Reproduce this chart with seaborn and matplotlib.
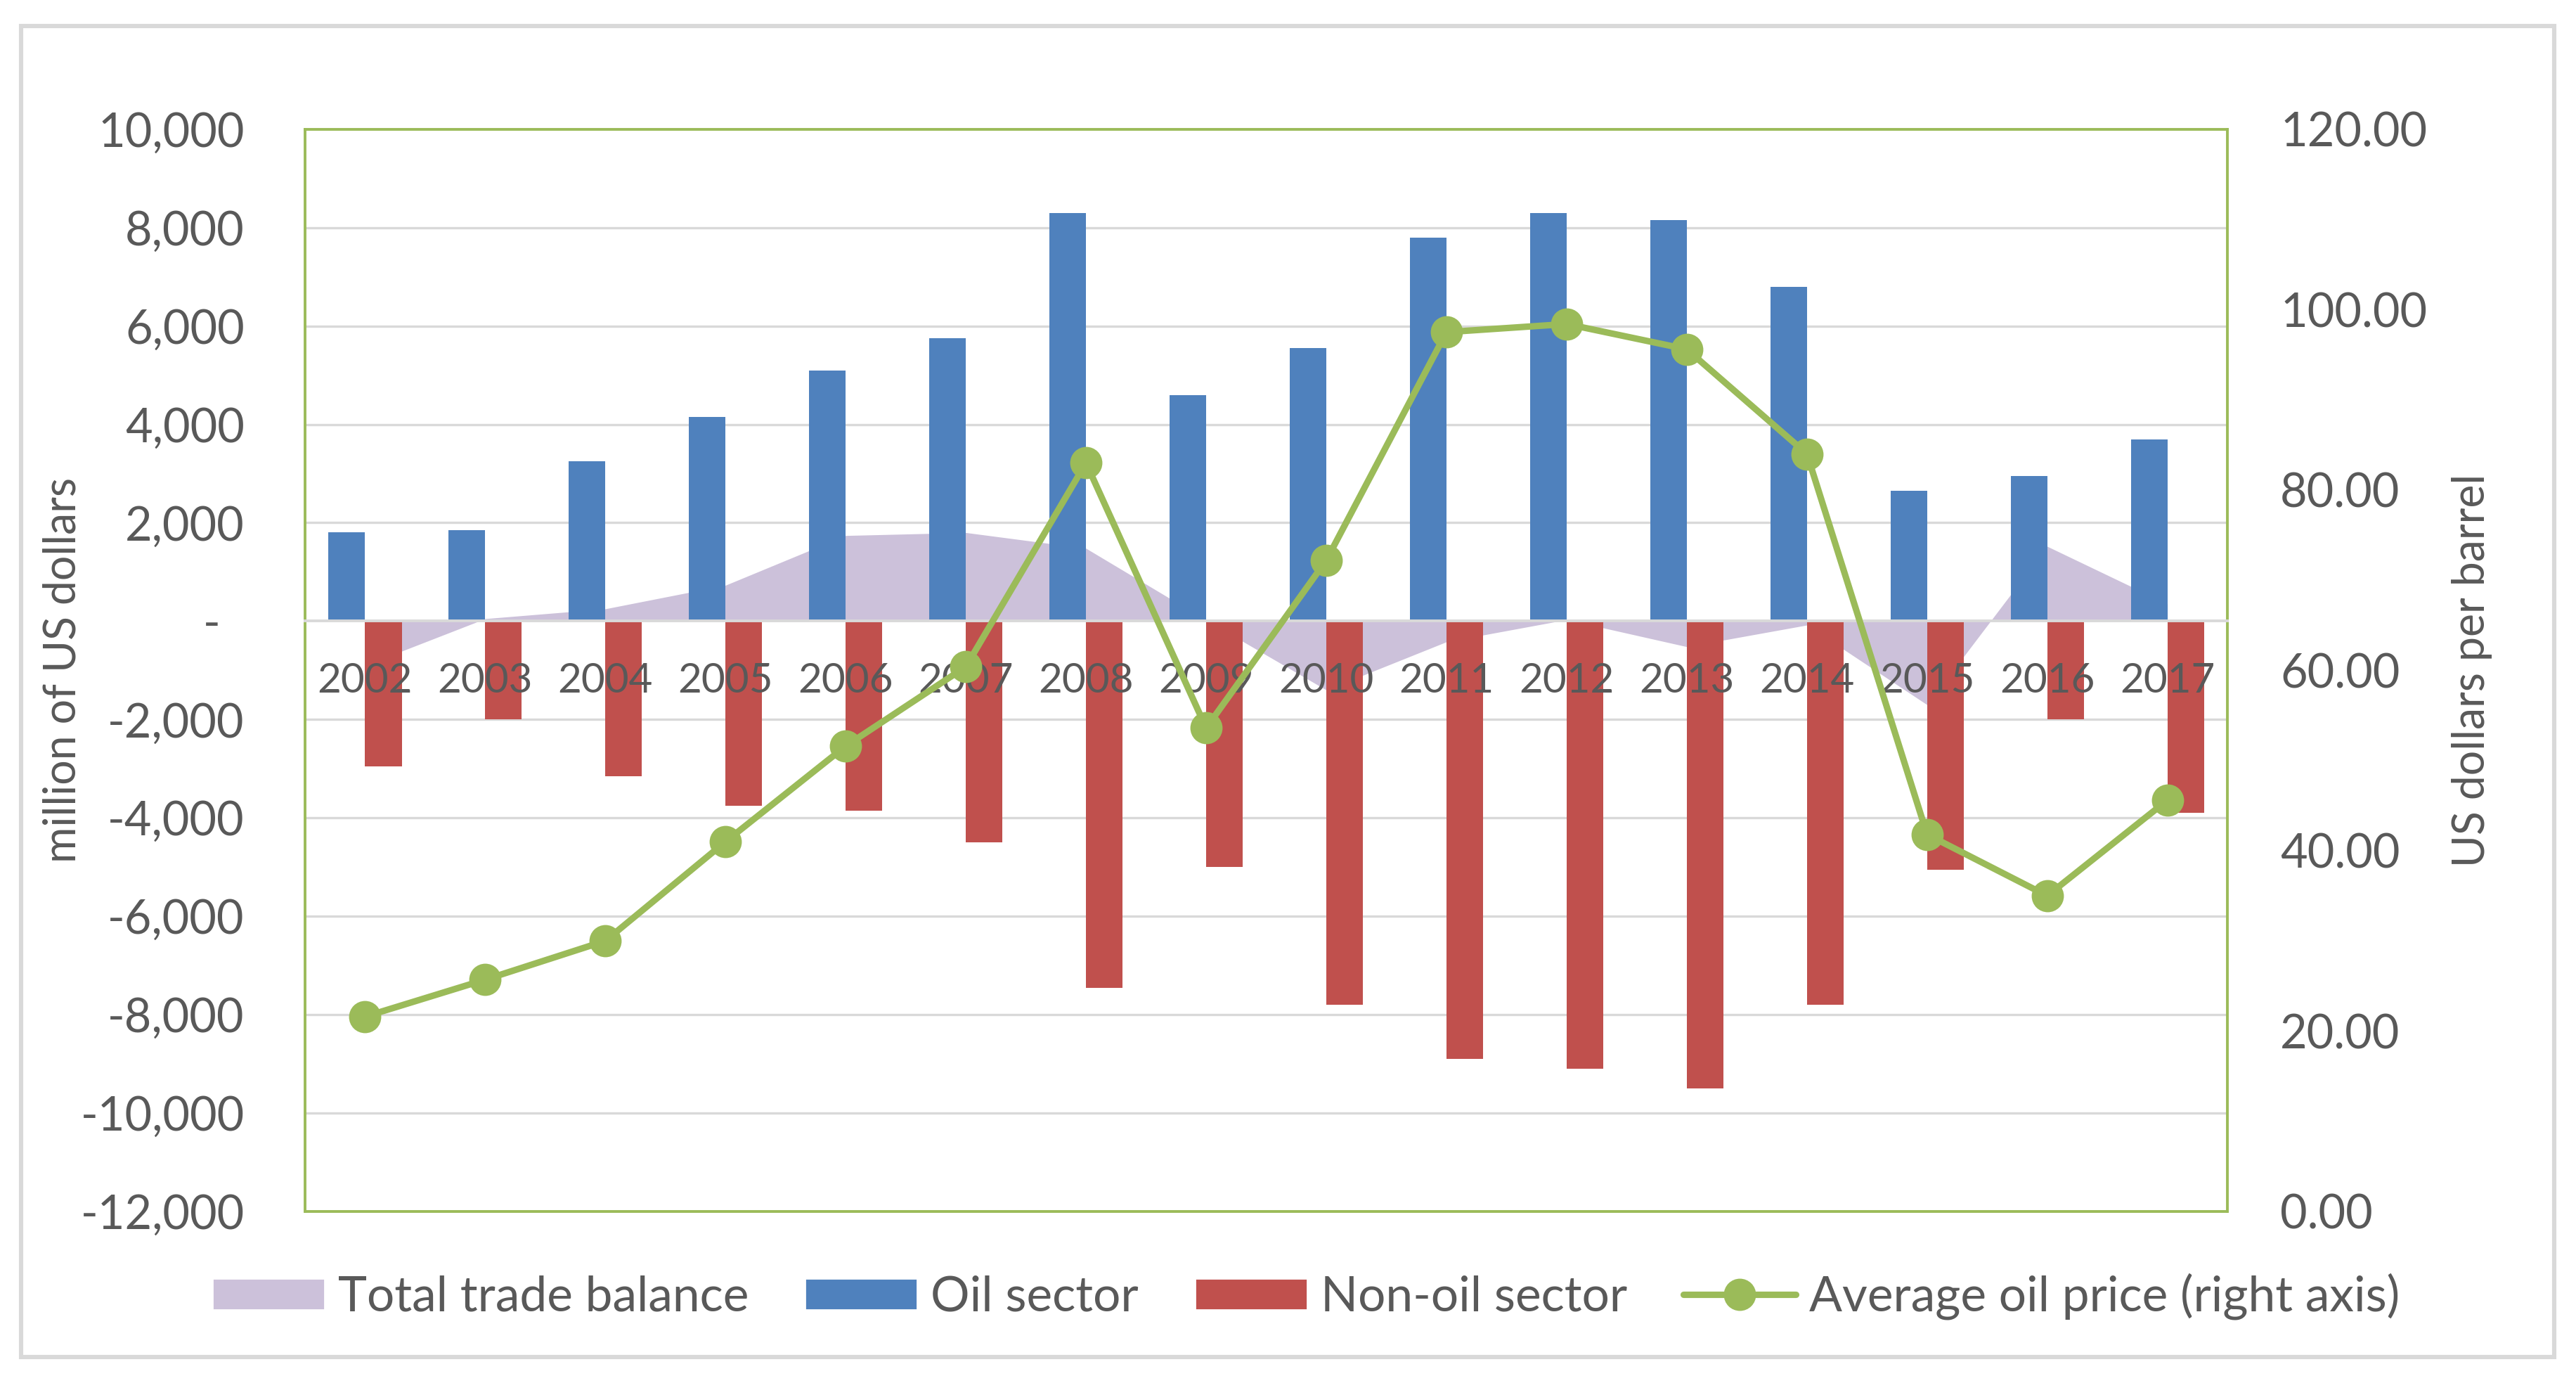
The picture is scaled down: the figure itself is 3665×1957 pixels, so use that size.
import numpy as np
import pandas as pd
import matplotlib
matplotlib.use('Agg')
import matplotlib.pyplot as plt
import seaborn as sns
from matplotlib.patches import Patch, Rectangle
from matplotlib.lines import Line2D
from matplotlib.ticker import FuncFormatter, MultipleLocator

# Data
years = ['2002', '2003', '2004', '2005', '2006', '2007', '2008', '2009',
         '2010', '2011', '2012', '2013', '2014', '2015', '2016', '2017']
oil_sector = [1800, 1850, 3250, 4150, 5100, 5750, 8300, 4600,
              5550, 7800, 8300, 8150, 6800, 2650, 2950, 3700]
non_oil_sector = [-2950, -2000, -3150, -3750, -3850, -4500, -7450, -5000,
                  -7800, -8900, -9100, -9500, -7800, -5050, -2000, -3900]
total_balance = [-900, 50, 250, 730, 1740, 1800, 1480, 20,
                 -1400, -420, 30, -520, -80, -1700, 1520, 350]
oil_price = [21.6, 25.7, 30.0, 41.0, 51.6, 60.4, 83.0, 53.6,
             72.2, 97.5, 98.4, 95.6, 84.0, 41.8, 35.0, 45.6]

# Colours
purple = '#CCC1DA'
blue = '#4F81BD'
red = '#C0504D'
green = '#9BBB59'
grid_grey = '#D9D9D9'
text_grey = '#595959'

sns.set_style('white')
plt.rcParams['font.family'] = ['Lato', 'DejaVu Sans']

bars = pd.DataFrame({
    'year': years * 2,
    'value': oil_sector + non_oil_sector,
    'sector': ['Oil sector'] * len(years) + ['Non-oil sector'] * len(years),
})
pos = np.arange(len(years))

fig = plt.figure(figsize=(18.325, 9.785), dpi=200)
ax = fig.add_axes([0.1184, 0.1196, 0.7463, 0.7865])

# gridlines drawn by hand so they stay behind the bars
for v in range(-10000, 10000, 2000):
    if v != 0:
        ax.axhline(v, color=grid_grey, lw=1.2, zorder=0.2)

# total trade balance as area behind bars
ax.fill_between(pos, total_balance, 0, color=purple, lw=0, zorder=0.5)

sns.barplot(data=bars, x='year', y='value', hue='sector',
            hue_order=['Oil sector', 'Non-oil sector'], order=years,
            palette=[blue, red], saturation=1, width=0.61, gap=0,
            errorbar=None, linewidth=0, legend=False, ax=ax, zorder=1)

ax.set_axisbelow(False)  # year labels sit on top of the bars
ax.set_xlim(-0.5, len(years) - 0.5)
ax.set_ylim(-12000, 10000)
ax.yaxis.set_major_locator(MultipleLocator(2000))
ax.yaxis.set_major_formatter(FuncFormatter(
    lambda v, p: '-  ' if abs(v) < 1e-9 else f'{v:,.0f}'))
ax.set_xlabel('')
ax.set_ylabel('')

for s in ['top', 'left', 'right']:
    ax.spines[s].set_color(green)
    ax.spines[s].set_linewidth(1.4)
ax.spines['bottom'].set_position(('data', 0))
ax.spines['bottom'].set_color(grid_grey)
ax.spines['bottom'].set_linewidth(1.4)
ax.axhline(-12000, color=green, lw=1.4, clip_on=False, zorder=3)

ax.tick_params(axis='x', length=0, pad=21, labelsize=21, labelcolor=text_grey)
ax.tick_params(axis='y', length=0, pad=31, labelsize=24, labelcolor=text_grey)

# oil price on right axis
ax2 = ax.twinx()
sns.lineplot(x=pos, y=oil_price, ax=ax2, color=green, lw=3.3, marker='o',
             markersize=16.5, markeredgewidth=0, legend=False)
ax2.set_ylim(0, 120)
ax2.set_xlim(-0.5, len(years) - 0.5)
ax2.yaxis.set_major_locator(MultipleLocator(20))
ax2.yaxis.set_major_formatter(FuncFormatter(lambda v, p: f'{v:.2f}'))
ax2.set_xlabel('')
ax2.set_ylabel('')
for s in ax2.spines.values():
    s.set_visible(False)
ax2.tick_params(axis='y', length=0, pad=27, labelsize=24, labelcolor=text_grey)

fig.text(0.0243, 0.513, 'million of US dollars', rotation=90, ha='center',
         va='center', fontsize=22.5, color=text_grey)
fig.text(0.9596, 0.513, 'US dollars per barrel', rotation=90, ha='center',
         va='center', fontsize=22.5, color=text_grey)

handles = [Patch(facecolor=purple), Patch(facecolor=blue), Patch(facecolor=red),
           Line2D([0], [0], color=green, lw=3.3, marker='o', markersize=16.5,
                  markeredgewidth=0)]
labels = ['Total trade balance', 'Oil sector', 'Non-oil sector',
          'Average oil price (right axis)']
fig.legend(handles, labels, loc='center', bbox_to_anchor=(0.507, 0.0577),
           ncol=4, frameon=False, fontsize=25, handlelength=2.3,
           handleheight=0.62, handletextpad=0.28, columnspacing=1.15,
           labelcolor=text_grey)

# outer chart border
fig.add_artist(Rectangle((0.0082, 0.0138), 0.9834, 0.9673,
                         transform=fig.transFigure, fill=False,
                         ec=grid_grey, lw=2.2))

fig.savefig('out.png', dpi=200)
